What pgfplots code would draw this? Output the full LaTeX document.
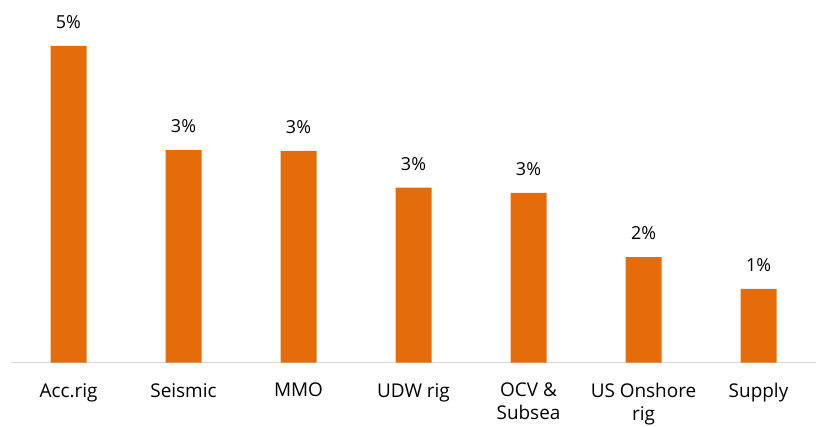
\documentclass[border=0pt]{standalone}
\usepackage{pgfplots}
\pgfplotsset{compat=1.18}
\usepackage{fontspec}
\setmainfont{Open Sans}
\definecolor{barorange}{HTML}{E46C0A}
\definecolor{axisgray}{HTML}{D9D9D9}
\begin{document}
\begin{tikzpicture}
\path[use as bounding box] (0,0) rectangle (819bp,427bp);
\begin{axis}[
  at={(11bp,64.3bp)}, anchor=south west,
  scale only axis,
  width=805bp, height=350bp,
  xmin=-0.5, xmax=6.5,
  ymin=0, ymax=5.5,
  axis line style={draw=none},
  axis x line*=bottom,
  ytick=\empty,
  xtick={0,...,6},
  xticklabels={Acc.rig,Seismic,MMO,UDW rig,{OCV \&\\Subsea},{US Onshore\\rig},Supply},
  xticklabel style={font=\fontsize{19}{23}\selectfont, align=center, anchor=north, yshift=-17bp},
  major tick length=0pt,
  /pgf/number format/assume math mode=true,
  nodes near coords={\pgfmathprintnumber[fixed,precision=0]{\pgfplotspointmeta}\%},
  nodes near coords style={font=\fontsize{18}{20}\selectfont, anchor=south, yshift=14bp, text=black},
  clip=false,
]
\draw[axisgray, line width=1.5bp] (axis cs:-0.5,0) -- (axis cs:6.5,0);
\addplot[ybar, bar width=36bp, fill=barorange, draw=none] coordinates {
  (0,4.98) (1,3.34) (2,3.33) (3,2.75) (4,2.67) (5,1.66) (6,1.16)
};
\end{axis}
\end{tikzpicture}
\end{document}
